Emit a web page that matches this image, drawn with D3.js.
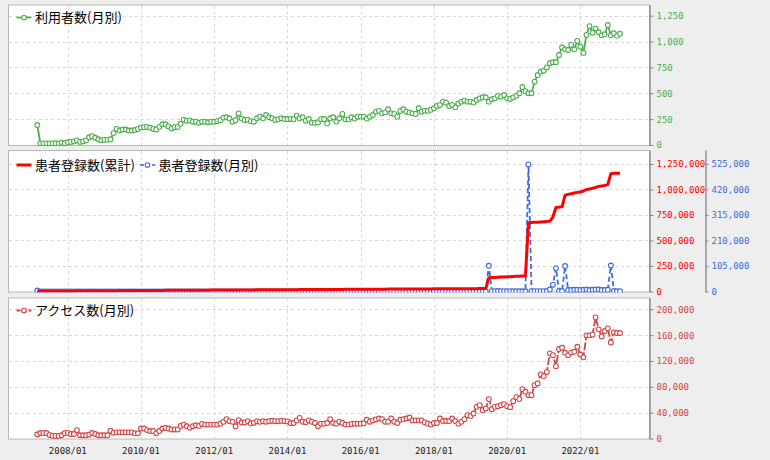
<!DOCTYPE html>
<html><head><meta charset="utf-8">
<script src="https://cdn.jsdelivr.net/npm/d3@7/dist/d3.min.js"></script>
<style>body{margin:0;background:#eeeeee;} svg{display:block;}</style>
</head><body>
<svg id="c" width="770" height="460"></svg>
<script>
// ---- data ----
const startMonth = "2007/03";
const xTickLabels = ["2008/01","2010/01","2012/01","2014/01","2016/01","2018/01","2020/01","2022/01"];

const users = [
 193,16,15,16,16,16,17,16,22,17,
 26,30,35,45,30,35,45,75,85,70,55,45,
 50,50,55,115,155,140,150,150,140,140,145,155,
 170,172,175,168,155,150,175,200,200,180,160,172,
 175,205,245,235,238,225,225,215,225,225,220,225,
 225,230,240,265,268,258,225,240,305,255,240,245,
 230,225,258,274,258,290,268,258,242,248,258,251,
 251,252,250,284,258,268,235,251,216,214,218,250,
 251,209,258,268,226,258,300,248,248,268,255,274,
 274,274,255,274,290,322,329,306,315,345,306,300,
 274,329,345,322,313,306,300,355,322,332,330,340,
 355,377,387,419,409,377,387,364,400,419,429,419,
 419,410,435,451,461,461,419,442,451,474,467,483,
 451,445,460,475,500,560,520,500,500,612,676,708,
 718,750,790,800,800,870,945,925,918,967,925,1006,
 950,890,1064,1149,1085,1125,1090,1060,1070,1160,1060,1080,
 1055,1075
];

const patientsCum = [
 4200,4300,4500,4600,4800,4900,5100,5300,5400,5600,
 5700,5900,6100,6200,6400,6600,6700,6900,7100,7200,7400,7600,
 7700,7900,8100,8200,8400,8600,8700,8900,9100,9300,9400,9600,
 9800,9900,10100,10300,10400,10600,10800,10900,11100,11300,11400,11600,
 11800,11900,12100,12300,12400,12600,12800,12900,13100,13300,13400,13600,
 13800,13900,14100,14300,14400,14600,14800,14900,15100,15300,15400,15600,
 15800,15900,16100,16300,16400,16600,16800,16900,17100,17300,17400,17600,
 17800,17900,18100,18300,18400,18600,18800,18900,19100,19300,19400,19600,
 19800,19900,20100,20300,20400,20600,20800,20900,21100,21300,21400,21600,
 21800,21900,22100,22300,22400,22600,22800,22900,23100,23300,23400,23600,
 23800,23900,24100,24300,24400,24600,24800,24900,25100,25300,25400,25600,
 25800,25900,26100,26300,26400,26600,26800,26900,27100,27300,27400,27600,
 27800,27900,28100,28300,28400,28600,135000,136500,138000,139500,141000,142500,
 144000,145500,147000,148500,150000,151000,152000,675000,676500,678000,679500,681000,
 683000,685000,690000,730000,824000,827000,830000,945000,952000,958000,965000,972000,
 975000,985000,1000000,1005000,1012000,1020000,1030000,1035000,1040000,1048000,1155000,1158000,
 1159000,1160000
];

const patientsMonthly = [
 4000,150,120,180,140,160,130,170,150,160,
 140,170,160,150,180,130,160,150,170,140,160,150,
 160,140,170,150,130,180,150,160,140,170,150,160,
 150,160,140,180,150,130,170,160,150,140,180,160,
 170,150,160,140,160,180,130,150,170,160,140,150,
 150,170,140,160,150,160,180,140,150,170,160,140,
 160,150,170,140,180,150,160,130,170,150,160,170,
 140,160,150,170,160,140,150,180,160,150,140,170,
 150,170,160,140,150,160,170,150,140,180,150,160,
 170,140,160,150,170,160,140,150,180,160,150,140,
 160,150,140,170,160,150,180,140,160,170,150,160,
 150,160,170,140,150,180,160,150,170,140,160,150,
 150,170,160,140,180,160,106000,1500,1500,1800,1500,1200,
 1000,1200,1000,800,1000,900,800,523000,1500,1500,1500,1500,
 1500,2000,8000,28000,96000,2000,2000,105000,6000,6000,7000,7000,
 6000,7000,8000,6000,7000,8000,8000,6000,6000,7000,107000,2000,
 1000,1000
];

const access = [
 6200,8500,8700,8500,5500,4100,4000,4000,5000,8700,
 8700,7000,7000,13000,5000,5000,5000,6000,8500,7000,5000,5000,
 5000,5000,12000,9000,9500,9500,9500,9500,9500,9500,8000,8000,
 15500,15500,13000,11500,11500,8000,11500,15500,16500,15500,14000,14000,
 14000,19500,21500,19000,16500,19000,20500,19500,22500,21500,21500,21500,
 21500,21500,23000,25800,29900,26800,25800,19000,28400,24800,24800,26800,
 23500,24500,26800,25800,26800,26000,26800,27500,26800,26800,27300,26800,
 26500,24000,24000,28000,32000,26000,25000,28000,26000,24000,19000,23000,
 23000,24000,30000,24000,23000,26000,24000,21500,21500,22500,23000,23000,
 23000,23500,29000,26000,28000,29500,31000,30000,26000,26000,31000,26000,
 24000,29000,30000,31000,32500,28000,28000,28000,28000,25000,23000,21500,
 24000,24000,31000,27000,27000,27000,31000,27000,23000,25800,29900,36100,
 35000,38700,49000,51600,43900,46500,61000,45400,49000,50000,51600,53200,
 50000,48500,57800,64000,61000,76500,72300,67000,67000,82600,85200,99300,
 96600,103000,131800,129000,112000,138500,140500,132700,129000,133200,134200,142000,
 130000,125600,159700,159700,160700,187600,169000,158000,166400,170500,148800,164300,
 163300,163300
];

const usersTicks = [0,250,500,750,1000,1250];
const cumTicks = [0,250000,500000,750000,1000000,1250000];
const monthlyTicks = [0,105000,210000,315000,420000,525000];
const accessTicks = [0,40000,80000,120000,160000,200000];

const legendUsers = "利用者数(月別)";
const legendCum = "患者登録数(累計)";
const legendMonthly = "患者登録数(月別)";
const legendAccess = "アクセス数(月別)";

// ---- helpers ----
const monthIndex = s => { const [y,m] = s.split("/").map(Number); return (y-2007)*12 + (m-1); };
const m0 = monthIndex(startMonth);

const svg = d3.select("#c");
const defs = svg.append("defs");
const L = 8, R = 649;
const x = d3.scaleLinear().domain([-7.6, 202.5]).range([L, R]);

const GREEN = "#4cae4c", RED = "#ff0000", BLUE = "#4169e1", ARED = "#d24646";
const tickFont = "'DejaVu Sans Mono', monospace";
const cjkFont = "'Noto Sans CJK JP', sans-serif";
let clipN = 0;

function panel(top, bottom, maxV, ticks, color) {
  const y = d3.scaleLinear().domain([0, maxV]).range([bottom, top]);
  const id = "clip" + (clipN++);
  defs.append("clipPath").attr("id", id).append("rect")
    .attr("x", L+1).attr("y", top+1).attr("width", R-L-1).attr("height", bottom-top);
  const g = svg.append("g");
  g.append("rect").attr("x", L+0.5).attr("y", top+0.5).attr("width", R-L).attr("height", bottom-top)
    .attr("fill", "#fff").attr("stroke", "#b8b8b8");
  g.selectAll(".vg").data(xTickLabels).join("line")
    .attr("x1", d => Math.round(x(monthIndex(d)))+0.5).attr("x2", d => Math.round(x(monthIndex(d)))+0.5)
    .attr("y1", top+1).attr("y2", bottom).attr("stroke", "#d8d8d8").attr("stroke-dasharray", "3,3");
  g.selectAll(".hg").data(ticks.filter(t => t > 0)).join("line")
    .attr("x1", L+1).attr("x2", R).attr("y1", d => Math.round(y(d))+0.5).attr("y2", d => Math.round(y(d))+0.5)
    .attr("stroke", "#d8d8d8").attr("stroke-dasharray", "3,3");
  const ax = svg.append("g").attr("transform", `translate(${R+0.5},0)`)
    .call(d3.axisRight(y).tickValues(ticks).tickSize(4).tickSizeOuter(0).tickPadding(3).tickFormat(d3.format(",")));
  ax.select(".domain").attr("stroke", "#888").attr("stroke-width", 1.3);
  ax.selectAll(".tick line").attr("stroke", "#888");
  ax.selectAll("text").attr("fill", color).style("font-family", tickFont).style("font-size", "9px");
  const inner = svg.append("g").attr("clip-path", `url(#${id})`);
  return {y, g: inner};
}

function legendItem(xs, yc, color, dash, width, marker, label) {
  svg.append("line").attr("x1", xs).attr("x2", xs+15).attr("y1", yc).attr("y2", yc)
    .attr("stroke", color).attr("stroke-width", width).attr("stroke-dasharray", dash);
  if (marker) svg.append("circle").attr("cx", xs+7.5).attr("cy", yc).attr("r", 2.3)
    .attr("fill", "#fff").attr("stroke", color).attr("stroke-width", 1.1);
  return svg.append("text").attr("x", xs+18.5).attr("y", yc).attr("dy", "0.36em")
    .style("font-family", cjkFont).style("font-size", "13px").attr("fill", "#000").text(label);
}

function series(g, vals, y, color, width, dash, marker) {
  const pts = vals.map((v, i) => [x(m0 + i), y(v)]);
  g.append("path").attr("d", d3.line()(pts)).attr("fill", "none").attr("stroke", color)
    .attr("stroke-width", width).attr("stroke-dasharray", dash).attr("stroke-linejoin", "round");
  if (marker) g.selectAll(null).data(pts).join("circle").attr("cx", d => d[0]).attr("cy", d => d[1]).attr("r", 2.4)
    .attr("fill", "#fff").attr("stroke", color).attr("stroke-width", 1.1);
}

// ---- panel 1 ----
const p1 = panel(4.5, 145, 1358, usersTicks, GREEN);
series(p1.g, users, p1.y, GREEN, 1.8, null, true);
legendItem(16.5, 17.5, GREEN, null, 1.8, true, legendUsers);

// ---- panel 2 ----
const p2 = panel(150, 291.5, 1387000, cumTicks, RED);
const yB = d3.scaleLinear().domain([0, 1387000*0.42]).range([291.5, 150]);
const ax2 = svg.append("g").attr("transform", `translate(705.5,0)`)
  .call(d3.axisRight(yB).tickValues(monthlyTicks).tickSize(3).tickSizeOuter(0).tickPadding(3).tickFormat(d3.format(",")));
ax2.select(".domain").attr("stroke", "#888").attr("stroke-width", 1.3);
ax2.selectAll(".tick line").attr("stroke", "#888");
ax2.selectAll("text").attr("fill", BLUE).style("font-family", tickFont).style("font-size", "9px");
series(p2.g, patientsMonthly, yB, BLUE, 1.8, "5,3", true);
series(p2.g, patientsCum, p2.y, RED, 3, null, false);
legendItem(16.5, 165, RED, null, 3, false, legendCum);
legendItem(140, 165, BLUE, "4,2", 1.5, true, legendMonthly);

// ---- panel 3 ----
const p3 = panel(297.5, 438.5, 218300, accessTicks, ARED);
series(p3.g, access, p3.y, ARED, 1.8, "8,2", true);
legendItem(16.5, 310.5, ARED, "4,2", 1.8, true, legendAccess);

// x labels
svg.append("g").selectAll("text").data(xTickLabels).join("text")
  .attr("x", d => x(monthIndex(d))).attr("y", 453.5).attr("text-anchor", "middle")
  .style("font-family", tickFont).style("font-size", "9px").attr("fill", "#222").text(d => d);
</script>
</body></html>
